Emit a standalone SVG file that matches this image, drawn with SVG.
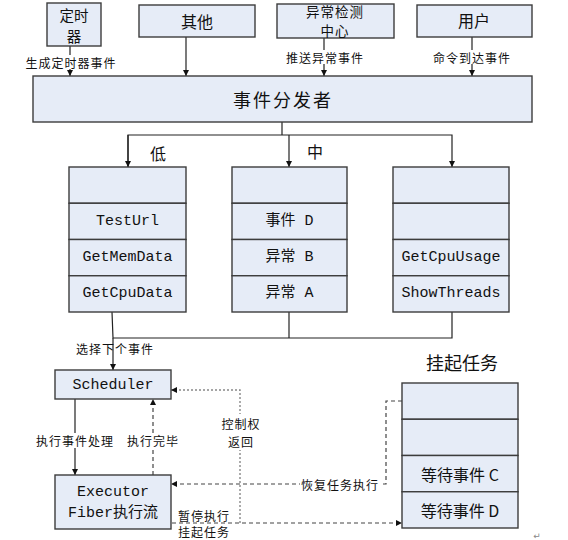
<svg xmlns="http://www.w3.org/2000/svg" width="568" height="540" viewBox="0 0 568 540">
<style>
.box{fill:#e6ecf7;stroke:#3c3c3c;stroke-width:1.4}
.cjk{font-family:"Noto Sans CJK SC","Noto Sans",sans-serif;fill:#111}
.mono{font-family:"Liberation Mono","Noto Sans CJK SC",monospace;fill:#111;font-size:15px}
.lbl{font-family:"Noto Sans CJK SC",sans-serif;font-size:12px;letter-spacing:1px;fill:#111}
.ln{fill:none;stroke:#222;stroke-width:1.2}
.dash{fill:none;stroke:#444;stroke-width:1.2;stroke-dasharray:4 3}
.dot{fill:none;stroke:#888;stroke-width:1.4;stroke-dasharray:2 2}
.bg{fill:#fff}
</style>
<defs>
<marker id="ah" viewBox="0 0 10 10" refX="10" refY="5" markerWidth="6" markerHeight="6" markerUnits="userSpaceOnUse" orient="auto">
<path d="M0,0 L10,5 L0,10 z" fill="#111"/>
</marker>
</defs>
<rect width="568" height="540" fill="#fff"/>

<g id="connectors">
<path class="ln" d="M70,46 V76" marker-end="url(#ah)"/>
<path class="ln" d="M186,37 V76" marker-end="url(#ah)"/>
<path class="ln" d="M324,38 V76" marker-end="url(#ah)"/>
<path class="ln" d="M472,37 V76" marker-end="url(#ah)"/>
<rect class="bg" x="24" y="55" width="94" height="14"/>
<text class="lbl" x="71" y="62" text-anchor="middle" dominant-baseline="central">生成定时器事件</text>
<rect class="bg" x="285" y="50" width="80" height="14"/>
<text class="lbl" x="325" y="57" text-anchor="middle" dominant-baseline="central">推送异常事件</text>
<rect class="bg" x="432" y="50" width="80" height="14"/>
<text class="lbl" x="472" y="57" text-anchor="middle" dominant-baseline="central">命令到达事件</text>

<path class="ln" d="M282,122 V135"/>
<path class="ln" d="M128,167 V135 H452 V167" marker-end="url(#ah)"/>
<path class="ln" d="M128,135 V167" marker-end="url(#ah)"/>
<path class="ln" d="M289,135 V167" marker-end="url(#ah)"/>
<text class="cjk" x="158" y="153" font-size="16" text-anchor="middle" dominant-baseline="central">低</text>
<text class="cjk" x="315" y="151" font-size="16" text-anchor="middle" dominant-baseline="central">中</text>

<path class="ln" d="M112,312 L113,338 H452 V312"/>
<path class="ln" d="M289,312 V338"/>
<path class="ln" d="M113,338 V370" marker-end="url(#ah)"/>
<text class="lbl" x="115" y="348" text-anchor="middle" dominant-baseline="central">选择下个事件</text>

<path class="ln" d="M75,399 V475" marker-end="url(#ah)"/>
<rect class="bg" x="36" y="433" width="79" height="15"/>
<text class="lbl" x="75" y="440" text-anchor="middle" dominant-baseline="central">执行事件处理</text>
<path class="dash" d="M153,475 V399" marker-end="url(#ah)"/>
<rect class="bg" x="126" y="433" width="54" height="15"/>
<text class="lbl" x="153" y="440" text-anchor="middle" dominant-baseline="central">执行完毕</text>

<path class="dot" d="M240,523 V390 H171" marker-end="url(#ah)"/>
<rect class="bg" x="220" y="414" width="41" height="36"/>
<text class="lbl" x="241" y="423" text-anchor="middle" dominant-baseline="central">控制权</text>
<text class="lbl" x="241" y="441" text-anchor="middle" dominant-baseline="central">返回</text>

<path class="dash" d="M172,523 H402" marker-end="url(#ah)"/>
<rect class="bg" x="177" y="509" width="58" height="9"/>
<text class="lbl" x="178" y="515" font-size="11.5" dominant-baseline="central">暂停执行</text>
<text class="lbl" x="178" y="531" font-size="11.5" dominant-baseline="central">挂起任务</text>

<path class="dash" d="M402,401 H386 V484 H171" marker-end="url(#ah)"/>
<rect class="bg" x="300" y="477" width="80" height="14"/>
<text class="lbl" x="340" y="484" text-anchor="middle" dominant-baseline="central">恢复任务执行</text>
</g>

<g id="timer">
<rect class="box" x="47" y="3" width="54" height="43"/>
<text class="cjk" x="74" y="14" font-size="14.5" text-anchor="middle" dominant-baseline="central">定时</text>
<text class="cjk" x="74" y="35" font-size="14.5" text-anchor="middle" dominant-baseline="central">器</text>
</g>
<g id="other">
<rect class="box" x="139" y="5" width="116" height="32"/>
<text class="cjk" x="197" y="21" font-size="16" text-anchor="middle" dominant-baseline="central">其他</text>
</g>
<g id="anomaly">
<rect class="box" x="277" y="4" width="117" height="34"/>
<text class="cjk" x="335" y="11" font-size="13.5" letter-spacing="1" text-anchor="middle" dominant-baseline="central">异常检测</text>
<text class="cjk" x="335" y="30" font-size="13.5" letter-spacing="1" text-anchor="middle" dominant-baseline="central">中心</text>
</g>
<g id="user">
<rect class="box" x="417" y="5" width="115" height="32"/>
<text class="cjk" x="474" y="20" font-size="16" text-anchor="middle" dominant-baseline="central">用户</text>
</g>
<g id="dispatcher">
<rect class="box" x="33" y="76" width="499" height="46"/>
<text class="cjk" x="283" y="99" font-size="18" letter-spacing="2" text-anchor="middle" dominant-baseline="central">事件分发者</text>
</g>

<g id="queue-low">
<rect class="box" x="69" y="167" width="117" height="36.25"/>
<rect class="box" x="69" y="203.25" width="117" height="36.25"/>
<rect class="box" x="69" y="239.5" width="117" height="36.25"/>
<rect class="box" x="69" y="275.75" width="117" height="36.25"/>
<text class="mono" x="127.5" y="221.4" text-anchor="middle" dominant-baseline="central">TestUrl</text>
<text class="mono" x="127.5" y="257.6" text-anchor="middle" dominant-baseline="central">GetMemData</text>
<text class="mono" x="127.5" y="293.9" text-anchor="middle" dominant-baseline="central">GetCpuData</text>
</g>
<g id="queue-mid">
<rect class="box" x="232" y="167" width="115" height="36.25"/>
<rect class="box" x="232" y="203.25" width="115" height="36.25"/>
<rect class="box" x="232" y="239.5" width="115" height="36.25"/>
<rect class="box" x="232" y="275.75" width="115" height="36.25"/>
<text class="mono" x="289.5" y="221.4" text-anchor="middle" dominant-baseline="central">事件 D</text>
<text class="mono" x="289.5" y="257.6" text-anchor="middle" dominant-baseline="central">异常 B</text>
<text class="mono" x="289.5" y="293.9" text-anchor="middle" dominant-baseline="central">异常 A</text>
</g>
<g id="queue-high">
<rect class="box" x="393" y="167" width="116" height="36.25"/>
<rect class="box" x="393" y="203.25" width="116" height="36.25"/>
<rect class="box" x="393" y="239.5" width="116" height="36.25"/>
<rect class="box" x="393" y="275.75" width="116" height="36.25"/>
<text class="mono" x="451" y="257.6" text-anchor="middle" dominant-baseline="central">GetCpuUsage</text>
<text class="mono" x="451" y="293.9" text-anchor="middle" dominant-baseline="central">ShowThreads</text>
</g>

<g id="scheduler">
<rect class="box" x="55" y="370" width="116" height="29"/>
<text class="mono" x="113" y="385" text-anchor="middle" dominant-baseline="central">Scheduler</text>
</g>
<g id="executor">
<rect class="box" x="55" y="475" width="116" height="54"/>
<text class="mono" x="113" y="492" font-size="15.5" text-anchor="middle" dominant-baseline="central">Executor</text>
<text class="mono" x="113" y="513" font-size="15.5" text-anchor="middle" dominant-baseline="central">Fiber执行流</text>
</g>

<g id="suspended">
<text class="cjk" x="462" y="362" font-size="18" text-anchor="middle" dominant-baseline="central">挂起任务</text>
<rect class="box" x="402" y="383" width="116" height="36.25"/>
<rect class="box" x="402" y="419.25" width="116" height="36.25"/>
<rect class="box" x="402" y="455.5" width="116" height="36.25"/>
<rect class="box" x="402" y="491.75" width="116" height="36.25"/>
<text class="cjk" x="460" y="473.6" font-size="16" text-anchor="middle" dominant-baseline="central">等待事件 C</text>
<text class="cjk" x="460" y="509.9" font-size="16" text-anchor="middle" dominant-baseline="central">等待事件 D</text>
</g>

<text x="537" y="536" font-family="DejaVu Sans,sans-serif" font-size="9" fill="#888" text-anchor="middle" dominant-baseline="central">↵</text>
</svg>
